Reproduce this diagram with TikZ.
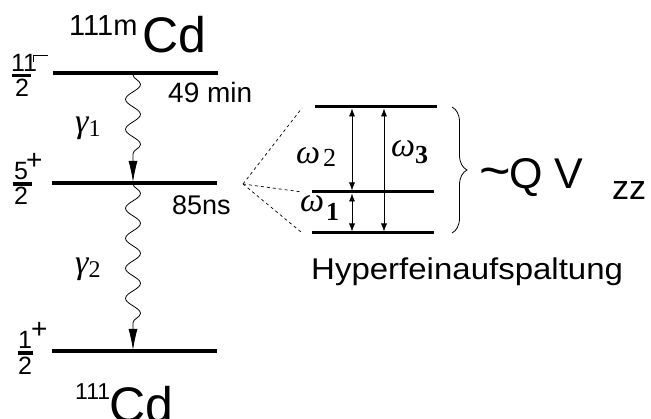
\documentclass[tikz,border=0pt]{standalone}
\usepackage{fontspec}
\setmainfont{Liberation Sans}
\newfontfamily\tms{Liberation Serif}
\usetikzlibrary{decorations.pathmorphing,decorations.pathreplacing,arrows.meta}
\newcommand{\fs}[1]{\fontsize{#1}{#1}\selectfont}
\begin{document}
\begin{tikzpicture}[x=1pt,y=-1pt,
  level/.style={line width=3.5pt},
  hfs/.style={line width=3pt},
  wave/.style={decorate, decoration={snake, amplitude=7.5pt, segment length=30pt, post length=21pt},
               line width=0.8pt, -{Latex[length=21pt,width=9pt]}},
  omarrow/.style={line width=0.6pt, {Latex[length=8pt,width=6pt]}-{Latex[length=8pt,width=6pt]}},
  dashline/.style={line width=0.7pt, dash pattern=on 3pt off 3pt},
  txt/.style={inner sep=0pt, anchor=base west},
  fracbar/.style={line width=3.5pt},
]
\useasboundingbox (0,0) rectangle (651,419);
% main levels
\coordinate (L1a) at (53,73);  \coordinate (L1b) at (218,73);
\coordinate (L2a) at (52,183); \coordinate (L2b) at (217,183);
\coordinate (L3a) at (52,351); \coordinate (L3b) at (217,351);
\draw[level] (L1a) -- (L1b);
\draw[level] (L2a) -- (L2b);
\draw[level] (L3a) -- (L3b);
% gamma transitions
\coordinate (g1s) at (133,75);  \coordinate (g1e) at (133,182);
\coordinate (g2s) at (133,184); \coordinate (g2e) at (133,350);
\draw[wave] (g1s) -- (g1e);
\draw[wave] (g2s) -- (g2e);
% spin labels
\node[txt] (s11) at (11,72) {\fs{25}11};
\node[txt] (s11d) at (15,97) {\fs{25}2};
\draw[fracbar] (12,75.5) -- (31,75.5);
\draw[line width=0.8pt] (33,62) -- (33,55) -- (48,55);
\node[txt] (s5) at (14,180) {\fs{25}5};
\node[txt] (s5d) at (14,205) {\fs{25}2};
\draw[fracbar] (13,184) -- (32,184);
\node[txt] (s5p) at (26,170) {\fs{28}+};
\node[txt] (s1) at (18,349) {\fs{25}1};
\node[txt] (s1d) at (18,375) {\fs{25}2};
\draw[fracbar] (18,353) -- (33,353);
\node[txt] (s1p) at (31,339) {\fs{28}+};
% isotope labels
\node[txt] (top111) at (69,36) {\fs{29}111m};
\node[txt] (topCd) at (142,53) {\fs{50}Cd};
\node[txt] (bot111) at (75,400) {\fs{23}111};
\node[txt] (botCd) at (109,423) {\fs{50}Cd};
% half-lives
\node[txt] (t1) at (168,103) {\fs{28}49 min};
\node[txt] (t2) at (172,215) {\fs{27}85ns};
% gamma labels
\node[txt] (gam1) at (75,133) {\fs{34}\tms\itshape γ\raisebox{-4pt}{\fs{24}\upshape 1}};
\node[txt] (gam2) at (75,274) {\fs{34}\tms\itshape γ\raisebox{-4pt}{\fs{24}\upshape 2}};
% hyperfine splitting
\coordinate (d0) at (243,184);
\coordinate (h1a) at (315,107); \coordinate (h1b) at (437,107);
\coordinate (h2a) at (312,192); \coordinate (h2b) at (434,192);
\coordinate (h3a) at (312,233); \coordinate (h3b) at (434,233);
\draw[hfs] (h1a) -- (h1b);
\draw[hfs] (h2a) -- (h2b);
\draw[hfs] (h3a) -- (h3b);
\draw[dashline] (d0) -- (302,108);
\draw[dashline] (d0) -- (302,192);
\draw[dashline] (d0) -- (301,232);
\coordinate (o2a) at (352,108.5); \coordinate (o2b) at (352,190.5);
\coordinate (o1a) at (352,193.5); \coordinate (o1b) at (352,231.5);
\coordinate (o3a) at (384,108.5); \coordinate (o3b) at (384,231.5);
\draw[omarrow] (o2a) -- (o2b);
\draw[omarrow] (o1a) -- (o1b);
\draw[omarrow] (o3a) -- (o3b);
\node[txt] (om2) at (296,164) {\fs{34}\tms\itshape ω\hspace{3pt}\raisebox{-3pt}{\fs{26}\upshape 2}};
\node[txt] (om3) at (391,157) {\fs{34}\tms\itshape ω\raisebox{-7pt}{\fs{26}\upshape\bfseries 3}};
\node[txt] (om1) at (300,212) {\fs{34}\tms\itshape ω\hspace{2pt}\raisebox{-9pt}{\fs{26}\upshape\bfseries 1}};
% brace
\coordinate (br1) at (452,107); \coordinate (br2) at (452,233);
\draw[line width=0.8pt, decorate, decoration={brace, amplitude=15pt}] (br1) -- (br2);
\node[txt] (tl) at (479,189) {\fs{40}\scalebox{1.35}[1.3]{\textasciitilde}};
\node[txt] (qv) at (509,189) {\fs{43}Q V};
\node[txt] (zz) at (612,200) {\fs{34}zz};
\node[txt] (hfa) at (311,280) {\fs{30}\scalebox{1.1}[1]{Hyperfeinaufspaltung}};
\end{tikzpicture}
\end{document}
